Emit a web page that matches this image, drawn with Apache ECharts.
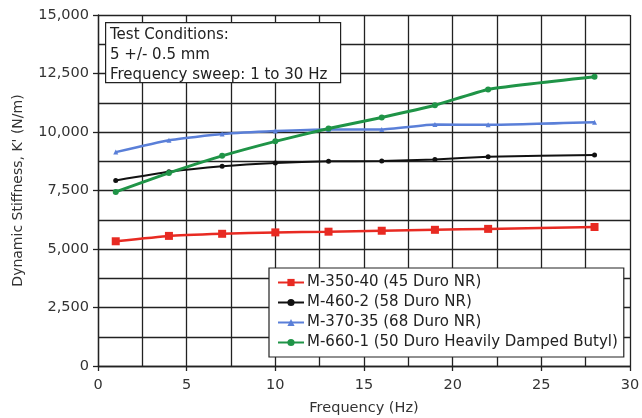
<!DOCTYPE html>
<html>
<head>
<meta charset="utf-8">
<script src="https://cdn.jsdelivr.net/npm/echarts@6/dist/echarts.min.js"></script>
<style>
  html, body { margin: 0; padding: 0; background: #fff; }
  #chart { width: 642px; height: 418px; }
</style>
</head>
<body>
<div id="chart"></div>
<script>
// Sweep frequencies (Hz)
const frequencies = [1, 4, 7, 10, 13, 16, 19, 22, 28];

// Dynamic stiffness K' (N/m) per mount
const m350_40 = [5330, 5560, 5650, 5710, 5740, 5780, 5820, 5860, 5940];
const m460_2  = [7930, 8300, 8540, 8680, 8750, 8760, 8830, 8940, 9020];
const m370_35 = [9140, 9650, 9910, 10040, 10110, 10110, 10320, 10310, 10420];
const m660_1  = [7440, 8250, 8980, 9600, 10150, 10620, 11140, 11820, 12360];

const seriesNames = [
  'M-350-40 (45 Duro NR)',
  'M-460-2 (58 Duro NR)',
  'M-370-35 (68 Duro NR)',
  'M-660-1 (50 Duro Heavily Damped Butyl)'
];

const conditionLines = ['Test Conditions:', '5 +/- 0.5 mm', 'Frequency sweep: 1 to 30 Hz'];

const FONT = 'DejaVu Sans';
const gridLine = { color: '#222', width: 1.3 };

function pairs(ys) { return frequencies.map((x, i) => [x, ys[i]]); }

function lineSeries(name, ys, color, width, symbol, size) {
  return {
    name, type: 'line', data: pairs(ys), smooth: 0.15,
    symbol, symbolSize: size, showSymbol: true,
    lineStyle: { color, width },
    itemStyle: { color },
    emphasis: { disabled: true },
    z: 3
  };
}

const chart = echarts.init(document.getElementById('chart'), null, { renderer: 'canvas' });
chart.setOption({
  animation: false,
  backgroundColor: '#fff',
  textStyle: { fontFamily: FONT },
  grid: { left: 98, right: 12, top: 15, bottom: 52, containLabel: false, outerBoundsMode: 'none' },
  xAxis: {
    type: 'value', min: 0, max: 30, interval: 5,
    name: 'Frequency (Hz)', nameLocation: 'middle', nameGap: 35,
    nameTextStyle: { fontFamily: FONT, fontSize: 14.5, color: '#333' },
    axisLine: { show: true, lineStyle: gridLine },
    axisTick: { show: true, length: 5, lineStyle: gridLine },
    axisLabel: { fontFamily: FONT, fontSize: 14.5, color: '#333', margin: 12 },
    splitLine: { show: true, lineStyle: gridLine },
    minorTick: { show: false, splitNumber: 2 },
    minorSplitLine: { show: true, lineStyle: gridLine }
  },
  yAxis: {
    type: 'value', min: 0, max: 15000, interval: 2500,
    name: "Dynamic Stiffness, K' (N/m)", nameLocation: 'middle', nameGap: 73,
    nameTextStyle: { fontFamily: FONT, fontSize: 14, color: '#333' },
    axisLine: { show: true, lineStyle: gridLine },
    axisTick: { show: true, length: 5, lineStyle: gridLine },
    axisLabel: {
      fontFamily: FONT, fontSize: 14.5, color: '#333', margin: 9,
      formatter: v => v.toLocaleString('en-US')
    },
    splitLine: { show: true, lineStyle: gridLine },
    minorTick: { show: false, splitNumber: 2 },
    minorSplitLine: { show: true, lineStyle: gridLine }
  },
  legend: {
    orient: 'vertical', left: 269, top: 268,
    padding: [6, 6, 6, 8],
    itemGap: 3, itemWidth: 26, itemHeight: 9,
    backgroundColor: '#fff', borderColor: '#222', borderWidth: 1.2,
    textStyle: { fontFamily: FONT, fontSize: 15, color: '#222', lineHeight: 17, padding: [0, 0, 0, -2] },
    data: seriesNames,
    selectedMode: false,
    z: 10
  },
  graphic: [
    { type: 'rect', left: 105, top: 22, z: 100,
      shape: { width: 235, height: 60 },
      style: { fill: '#fff', stroke: '#222', lineWidth: 1.2 } },
    { type: 'text', left: 110, top: 25, z: 101,
      style: { text: conditionLines.join('\n'), font: '15px "DejaVu Sans"',
               lineHeight: 20, fill: '#222' } }
  ],
  series: [
    lineSeries(seriesNames[0], m350_40, '#e82a22', 2.5, 'rect', 8),
    lineSeries(seriesNames[1], m460_2, '#111', 2, 'circle', 5),
    lineSeries(seriesNames[2], m370_35, '#5a7fd8', 2.5, 'triangle', 5),
    lineSeries(seriesNames[3], m660_1, '#1f9447', 3, 'circle', 6)
  ]
});
</script>
</body>
</html>
